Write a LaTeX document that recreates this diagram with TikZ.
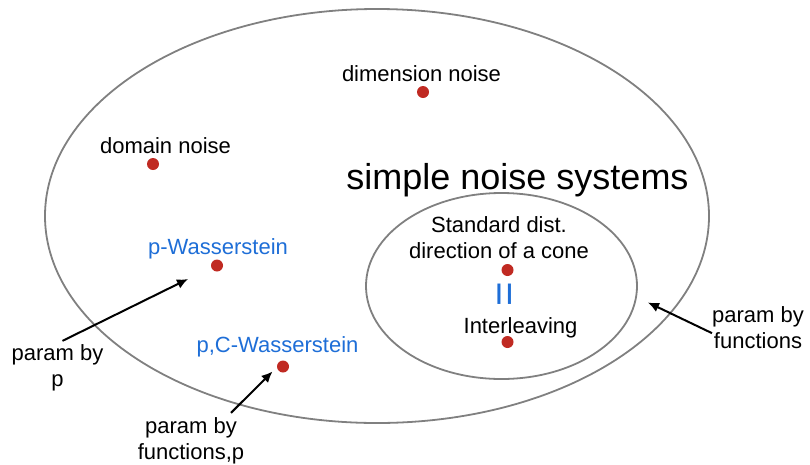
\documentclass[tikz,border=0pt]{standalone}
\usepackage{fontspec}
\setmainfont{Liberation Sans}
\usetikzlibrary{arrows.meta, positioning}
\definecolor{DotRed}{RGB}{192, 42, 34}
\definecolor{LabelBlue}{RGB}{30, 110, 215}
\definecolor{RingGray}{RGB}{128, 128, 128}

\begin{document}
\begin{tikzpicture}[
        x=1pt, y=-1pt,
        every node/.style={inner sep=0pt, font=\fontsize{22}{26}\selectfont},
        dot/.style={circle, fill=DotRed, minimum size=12pt},
        ring/.style={draw=RingGray, line width=1.8pt},
        label text/.style={anchor=base, align=center},
        param arrow/.style={-{Latex[length=11pt, width=10pt]}, line width=2pt}
    ]
        \useasboundingbox (0,0) rectangle (810,464);

        % Regions
        \draw[ring] (377,216) ellipse [x radius=332, y radius=207];
        \draw[ring] (501.5,286) ellipse [x radius=135.5, y radius=93];

        % Noise systems
        \node[dot] (dimdot) at (423,92) {};
        \node[label text] (dimlbl) at (421.5,81) {dimension noise};

        \node[dot] (domdot) at (153,164) {};
        \node[label text] (domlbl) at (165.5,153) {domain noise};

        \node[dot] (pwdot) at (217,265.5) {};
        \node[label text, text=LabelBlue] (pwlbl) at (218,254) {p-Wasserstein};

        \node[dot] (pcwdot) at (283,366.5) {};
        \node[label text, text=LabelBlue] (pcwlbl) at (277.5,352) {p,C-Wasserstein};

        % Title
        \node[label text, font=\fontsize{36}{40}\selectfont] (title) at (517.5,189) {simple noise systems};

        % Inner region (base = last line)
        \node[dot] (stddot) at (507.5,270) {};
        \node[label text] (stdlbl) at (499,258) {Standard dist.\\direction of a cone};
        \node[rotate=90, text=LabelBlue, font=\fontsize{42}{42}\selectfont] (eqsign) at (508,294) {=};
        \node[dot] (intdot) at (507.5,342) {};
        \node[label text] (intlbl) at (520.5,333) {Interleaving};

        % Parametrisations
        \node[label text] (pbyp) at (57.5,386) {param by\\p};
        \node[label text] (pbyfp) at (191,459) {param by\\functions,p};
        \node[label text] (pbyf) at (758,348) {param by\\functions};

        % Arrows
        \coordinate (pwtip) at (188,279);
        \coordinate (pcwtip) at (272.5,371.5);
        \coordinate (ftip) at (648,302.5);
        \draw[param arrow] ([xshift=5pt, yshift=3pt]pbyp.north) -- (pwtip);
        \draw[param arrow] ([xshift=40pt, yshift=4pt]pbyfp.north) -- (pcwtip);
        \draw[param arrow] ([yshift=-6pt]pbyf.west) -- (ftip);
\end{tikzpicture}
\end{document}
